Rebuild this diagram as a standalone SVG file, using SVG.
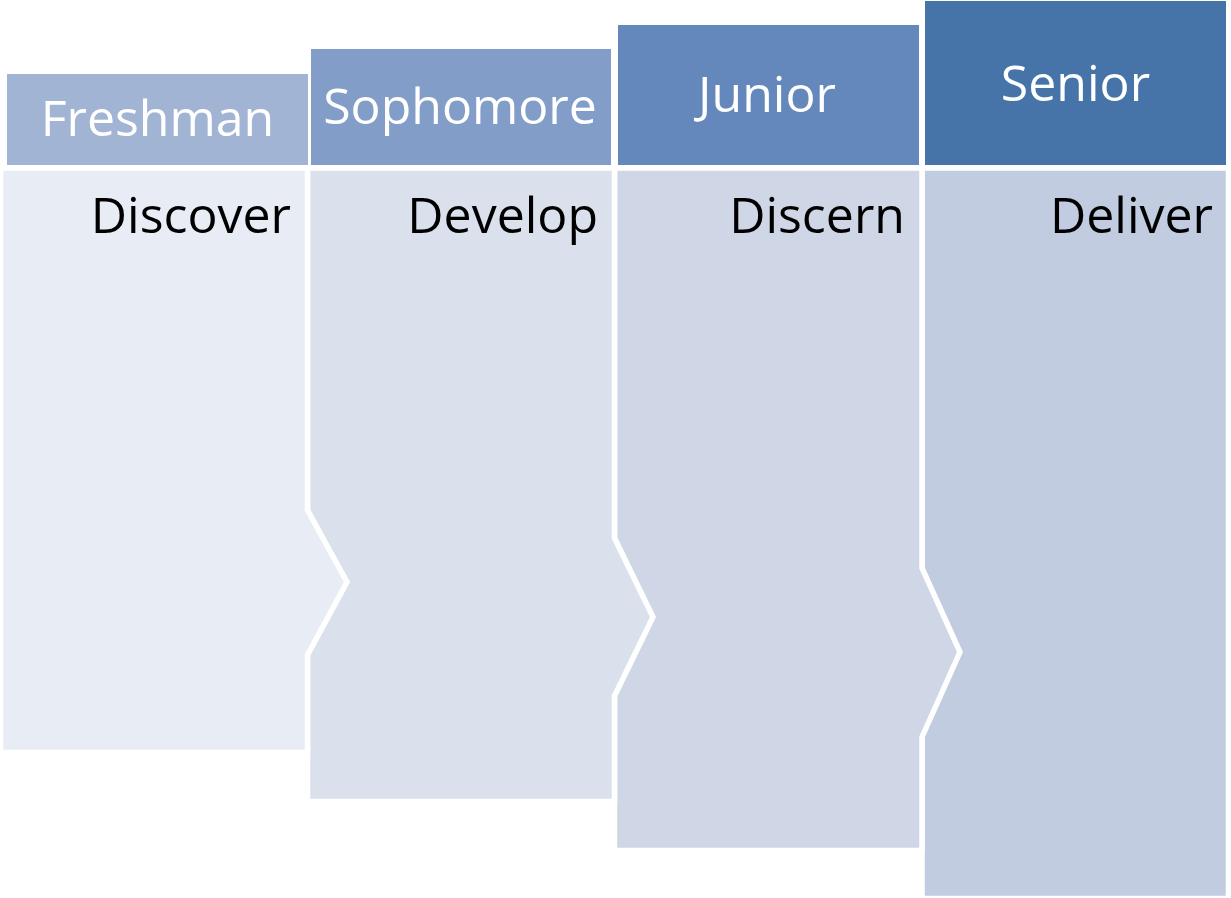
<svg xmlns="http://www.w3.org/2000/svg" width="1231" height="898" viewBox="0 0 1231 898">
<style>
.body{stroke:#ffffff;stroke-width:5.5;stroke-linejoin:miter}
.hd{fill:#ffffff;font-family:"Open Sans","Noto Sans",sans-serif;font-size:50px;text-anchor:middle}
.bt{fill:#000000;font-family:"Open Sans","Noto Sans",sans-serif;font-size:50px;text-anchor:end}
</style>
<rect width="1231" height="898" fill="#ffffff"/>
<g id="senior">
<polygon class="body" fill="#c1cce1" points="922,168 1228.5,168 1228.5,898.5 922,898.5"/>
<rect x="925" y="1" width="301" height="164" fill="#4674a9"/>
<text class="hd" x="1075.5" y="101">Senior</text>
<text class="bt" x="1213" y="233">Deliver</text>
</g>
<g id="junior">
<polygon class="body" fill="#cfd6e6" points="614.5,168 922,168 922,568 960,652 922,737 922,850.5 614.5,850.5"/>
<rect x="618" y="25" width="301" height="140" fill="#6488bb"/>
<text class="hd" x="767" y="112">Junior</text>
<text class="bt" x="905" y="233">Discern</text>
</g>
<g id="sophomore">
<polygon class="body" fill="#dae1ed" points="307.5,168 614.5,168 614.5,538 653,617 614.5,696 614.5,801.5 307.5,801.5"/>
<rect x="311" y="49" width="300" height="116" fill="#819dc8"/>
<text class="hd" x="460" y="124">Sophomore</text>
<text class="bt" x="598" y="233">Develop</text>
</g>
<g id="freshman">
<polygon class="body" fill="#e8edf5" points="0.5,168 307.5,168 307.5,510 347,582 307.5,655 307.5,752.5 0.5,752.5"/>
<rect x="7" y="74" width="301" height="91" fill="#a2b4d4"/>
<text class="hd" x="157.5" y="136">Freshman</text>
<text class="bt" x="291" y="233">Discover</text>
</g>
<g id="connectors"/>
</svg>
